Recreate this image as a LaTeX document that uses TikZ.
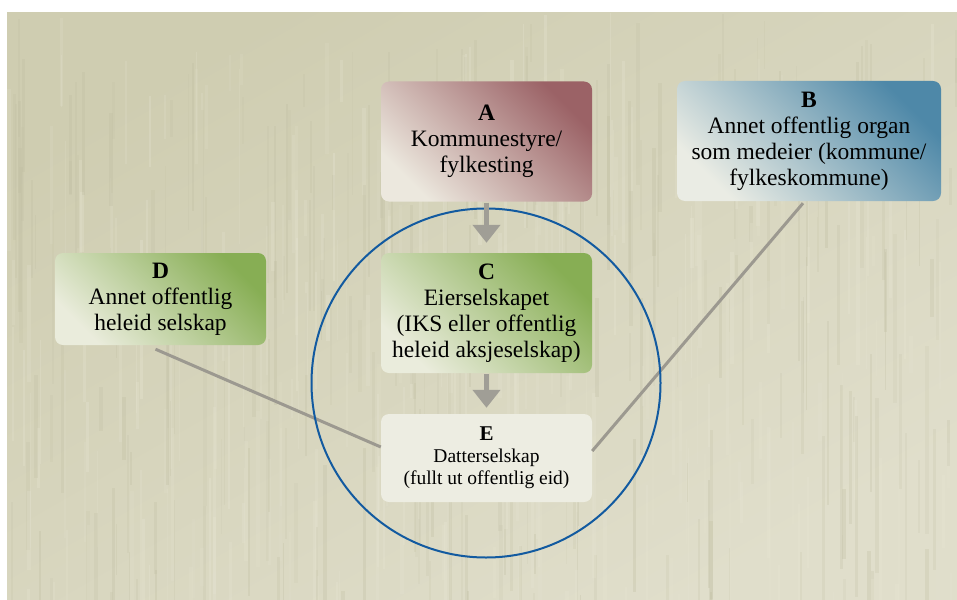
\documentclass[tikz,border=0pt]{standalone}
\usepackage{fontspec}
\setmainfont{Liberation Serif}
\usetikzlibrary{arrows.meta,calc}
\definecolor{bgA}{RGB}{207,205,177}
\definecolor{bgB}{RGB}{224,222,203}
\definecolor{streakD}{RGB}{192,190,162}
\definecolor{streakL}{RGB}{232,230,212}
\definecolor{Adark}{RGB}{155,98,102}
\definecolor{Alight}{RGB}{236,232,222}
\definecolor{Bdark}{RGB}{78,136,168}
\definecolor{Blight}{RGB}{234,236,228}
\definecolor{Gdark}{RGB}{135,174,84}
\definecolor{Glight}{RGB}{234,236,220}
\definecolor{Efill}{RGB}{237,237,226}
\definecolor{ringblue}{RGB}{18,90,160}
\definecolor{linkgray}{RGB}{156,153,144}
\definecolor{arrowgray}{RGB}{160,158,150}
\begin{document}
\begin{tikzpicture}[x=1pt,y=-1pt,
  box/.style={rounded corners=8pt, inner sep=0pt, align=center, text=black,
    font=\fontsize{23.5}{26}\selectfont},
  abox/.style={box, top color=Adark, bottom color=Alight, shading angle=-45},
  bbox/.style={box, top color=Bdark, bottom color=Blight, shading angle=-45},
  gbox/.style={box, top color=Gdark, bottom color=Glight, shading angle=-45},
  ebox/.style={box, fill=Efill, font=\fontsize{19.5}{22}\selectfont},
  flow/.style={draw=arrowgray, line width=5pt, -{Triangle[width=27pt,length=18pt]}},
  link/.style={draw=linkgray, line width=3pt},
  ring/.style={draw=ringblue, line width=2pt}
]
\useasboundingbox (0,0) rectangle (957,599);
\shade[top color=bgA, bottom color=bgB, shading angle=30] (7,13) rectangle (957,599);
\begin{scope}
  \clip (7,13) rectangle (957,599);
  \pgfmathsetseed{7}
  \foreach \i in {1,...,500}{
    \pgfmathsetmacro{\xx}{7+950*rnd}
    \pgfmathsetmacro{\yy}{13+586*rnd}
    \pgfmathsetmacro{\hh}{30+160*rnd}
    \pgfmathsetmacro{\ww}{1+3*rnd}
    \pgfmathsetmacro{\op}{0.12+0.2*rnd}
    \ifodd\i
      \fill[streakL, opacity=\op] (\xx,\yy) rectangle ++(\ww,\hh);
    \else
      \fill[streakD, opacity=\op] (\xx,\yy) rectangle ++(\ww,\hh);
    \fi
  }
\end{scope}

\node[abox, minimum width=211pt, minimum height=120pt] (A) at (486.5,141.5)
  {\textbf{A}\\Kommunestyre/\\fylkesting};
\node[bbox, minimum width=264pt, minimum height=120pt] (B) at (809,141)
  {\textbf{B}\\Annet offentlig organ\\som medeier (kommune/\\fylkeskommune)};
\node[gbox, minimum width=211pt, minimum height=120pt] (C) at (486.5,313)
  {\textbf{C}\\Eierselskapet\\(IKS eller offentlig\\heleid aksjeselskap)};
\node[gbox, minimum width=211pt, minimum height=92pt] (D) at (160.5,299)
  {\textbf{D}\\Annet offentlig\\heleid selskap};
\node[ebox, minimum width=211pt, minimum height=88pt] (E) at (486.5,458)
  {{\fontsize{21}{22}\selectfont\textbf{E}}\\Datterselskap\\(fullt ut offentlig eid)};

\coordinate (Dstart) at ($(D.south)+(-5,4)$);
\coordinate (Dend) at ($(E.west)+(0,-11)$);
\coordinate (Bstart) at ($(B.south)+(-6,2)$);
\coordinate (Bend) at ($(E.east)+(0,-7)$);
\coordinate (ringc) at (486,383);

\draw[link] (Dstart) -- (Dend);
\draw[link] (Bstart) -- (Bend);
\draw[ring] (ringc) circle[radius=174.5pt];

\draw[flow, shorten <=1pt, shorten >=10pt] (A.south) -- (C.north);
\draw[flow, shorten <=1pt, shorten >=6pt] (C.south) -- (E.north);
\end{tikzpicture}
\end{document}
